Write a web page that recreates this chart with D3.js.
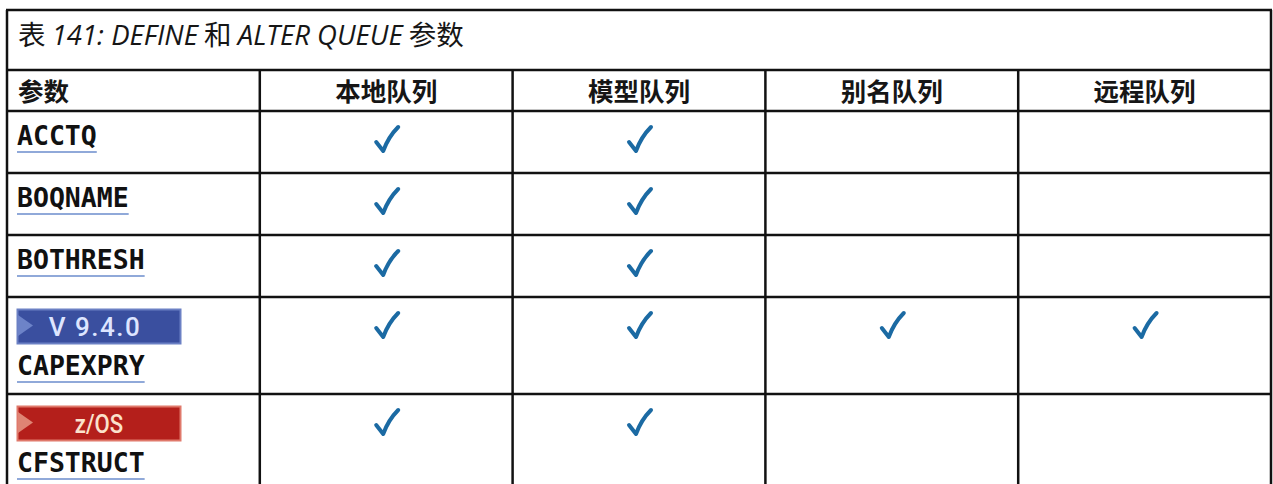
<!DOCTYPE html>
<html><head><meta charset="utf-8">
<script src="https://cdn.jsdelivr.net/npm/d3@7"></script>
<style>
html,body{margin:0;padding:0;background:#fff;}
svg{display:block;}
</style></head>
<body>
<script>
// ---- data ----
const titleParts = [["表 ", false], ["141: DEFINE", true], [" 和 ", false], ["ALTER QUEUE", true], [" 参数", false]];
const columns = ["参数", "本地队列", "模型队列", "别名队列", "远程队列"];
const params = ["ACCTQ", "BOQNAME", "BOTHRESH", "CAPEXPRY", "CFSTRUCT"];
const badges = [null, null, null, "V 9.4.0", "z/OS"];
const localQ  = [1, 1, 1, 1, 1];
const modelQ  = [1, 1, 1, 1, 1];
const aliasQ  = [0, 0, 0, 1, 0];
const remoteQ = [0, 0, 0, 1, 0];
const seriesVals = [localQ, modelQ, aliasQ, remoteQ];

// ---- layout ----
const W = 1273, H = 484;
const tblLeft = 7, tblRight = 1271, tblTop = 10;
const titleH = 60, headH = 41;
const rowHPlain = 62, rowHBadge = 97;

const svg = d3.select("body").append("svg").attr("width", W).attr("height", H);

const x = d3.scaleBand().domain(columns).range([tblLeft, tblRight]).paddingInner(0).paddingOuter(0);

const rowTops = [];
let yy = tblTop + titleH + headH;
params.forEach((p, i) => { rowTops.push(yy); yy += badges[i] ? rowHBadge : rowHPlain; });
const rowBottoms = params.map((p, i) => rowTops[i] + (badges[i] ? rowHBadge : rowHPlain));

const cjk = "'Noto Sans CJK SC', 'Noto Sans', sans-serif";
const lat = "'Open Sans', 'Noto Sans CJK SC', sans-serif";

// title
const t = svg.append("text").attr("x", tblLeft + 11).attr("y", tblTop + 35)
  .attr("font-size", 27.5).attr("fill", "#161616").attr("font-family", lat);
titleParts.forEach(([s, it]) => {
  t.append("tspan").text(s).attr("font-style", it ? "italic" : "normal")
   .attr("font-family", it ? lat : cjk);
});

// header
const headY = tblTop + titleH;
columns.forEach((c, i) => {
  svg.append("text")
    .attr("x", i === 0 ? tblLeft + 11 : x(c) + x.bandwidth() / 2)
    .attr("y", headY + 31)
    .attr("text-anchor", i === 0 ? "start" : "middle")
    .attr("font-family", cjk).attr("font-weight", 700).attr("font-size", 25.5)
    .attr("fill", "#161616").text(c);
});

// rows
const mono = "'DejaVu Sans Mono', 'Liberation Mono', monospace";
params.forEach((p, i) => {
  const rt = rowTops[i];
  const hasB = !!badges[i];
  if (hasB) {
    const isBlue = badges[i].startsWith("V");
    const g = svg.append("g").attr("transform", `translate(${tblLeft + 10},${rt + 12})`);
    g.append("rect").attr("x", 0.5).attr("y", 0.5).attr("width", 163).attr("height", 34)
      .attr("fill", isBlue ? "#3a4f9f" : "#b41f1b")
      .attr("stroke", isBlue ? "#6b80c4" : "#e0796b").attr("stroke-width", 2);
    g.append("path").attr("d", "M1,6 L16,16.5 L1,27 Z").attr("fill", isBlue ? "#6d83c8" : "#df8474");
    const tx = g.append("text").attr("text-anchor", "middle")
      .attr("font-family", "Roboto, 'Liberation Sans', sans-serif").attr("font-weight", 500)
      .attr("font-size", 26).attr("fill", isBlue ? "#dde5ff" : "#fbe2cc")
      .text(badges[i]);
    if (isBlue) tx.attr("x", 78).attr("y", 27).attr("letter-spacing", 1.5);
    else tx.attr("transform", "translate(82,27) scale(0.85,1)");
  }
  const by = rt + (hasB ? 78 : 34);
  const txt = svg.append("text").attr("x", tblLeft + 10).attr("y", by)
    .attr("font-family", mono).attr("font-weight", 700).attr("font-size", 26.5)
    .attr("fill", "#111").text(p);
  const w = txt.node().getComputedTextLength();
  svg.append("line").attr("x1", tblLeft + 10).attr("x2", tblLeft + 10 + w)
    .attr("y1", by + 7).attr("y2", by + 7).attr("stroke", "#6b8ccc").attr("stroke-width", 1.5);

  seriesVals.forEach((vals, j) => {
    if (!vals[i]) return;
    const cx = x(columns[j + 1]) + x.bandwidth() / 2;
    const cy = rt + 29;
    svg.append("path")
      .attr("d", `M${cx - 10},${cy + 2} L${cx - 3},${cy + 11} C${cx + 1},${cy} ${cx + 7},${cy - 8} ${cx + 12},${cy - 13}`)
      .attr("fill", "none").attr("stroke", "#1b6aa3").attr("stroke-width", 4)
      .attr("stroke-linecap", "round").attr("stroke-linejoin", "round");
  });
});

// grid lines
const lineC = "#111", lw = 2.5;
const hLines = [tblTop, tblTop + titleH, headY + headH, ...rowBottoms];
hLines.forEach(y => svg.append("line").attr("x1", tblLeft - 1).attr("x2", tblRight + 1)
  .attr("y1", y).attr("y2", y).attr("stroke", lineC).attr("stroke-width", lw));
[tblLeft, tblRight].forEach(xv => svg.append("line").attr("x1", xv).attr("x2", xv)
  .attr("y1", tblTop).attr("y2", H + 20).attr("stroke", lineC).attr("stroke-width", lw));
columns.slice(1).forEach(c => svg.append("line").attr("x1", x(c)).attr("x2", x(c))
  .attr("y1", tblTop + titleH).attr("y2", H + 20).attr("stroke", lineC).attr("stroke-width", lw));
</script>
</body></html>
